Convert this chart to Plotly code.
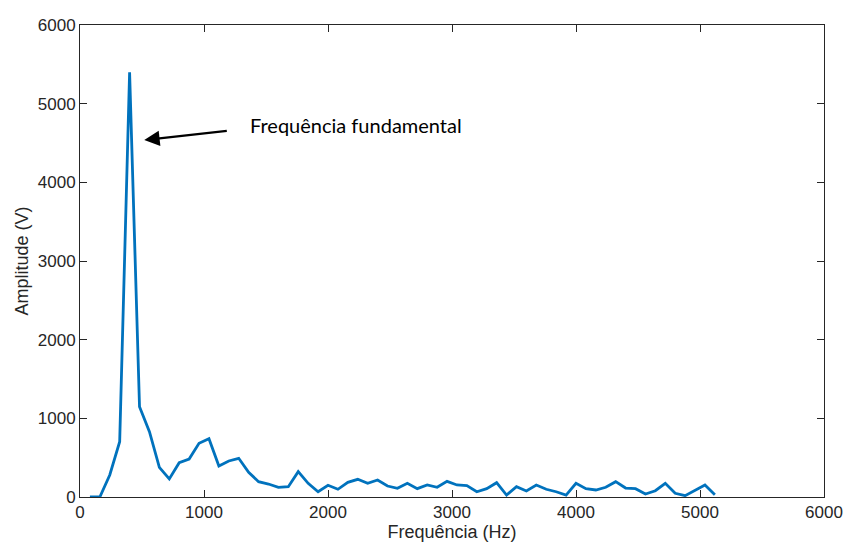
import plotly.graph_objects as go

freq_hz = [80, 160, 240, 320, 400, 480, 560, 640, 720, 800,
           880, 960, 1040, 1120, 1200, 1280, 1360, 1440, 1520, 1600,
           1680, 1760, 1840, 1920, 2000, 2080, 2160, 2240, 2320, 2400,
           2480, 2560, 2640, 2720, 2800, 2880, 2960, 3040, 3120, 3200,
           3280, 3360, 3440, 3520, 3600, 3680, 3760, 3840, 3920, 4000,
           4080, 4160, 4240, 4320, 4400, 4480, 4560, 4640, 4720, 4800,
           4880, 4960, 5040, 5120]
amplitude_v = [0, 0, 280, 703, 5400, 1148, 830, 377, 229, 436,
               483, 682, 741, 394, 458, 492, 314, 195, 165, 123,
               131, 322, 174, 67, 149, 98, 187, 225, 174, 216,
               140, 110, 174, 106, 153, 123, 199, 153, 144, 67,
               106, 182, 25, 131, 76, 153, 98, 67, 25, 174,
               106, 89, 123, 195, 114, 106, 38, 80, 174, 47,
               17, 89, 153, 30]

x_ticks = [0, 1000, 2000, 3000, 4000, 5000, 6000]
y_ticks = [0, 1000, 2000, 3000, 4000, 5000, 6000]

annot_text = "Frequência fundamental"

fig = go.Figure()
fig.add_trace(go.Scatter(x=freq_hz, y=amplitude_v, mode="lines",
                         line=dict(color="#0072BD", width=2.8),
                         showlegend=False, hoverinfo="skip"))

axis_common = dict(showgrid=False, zeroline=False, showline=True, mirror="ticks",
                   linecolor="#262626", linewidth=1, ticks="inside", ticklen=7,
                   tickcolor="#262626", automargin=False,
                   tickfont=dict(family="Liberation Sans, Arial", size=17, color="#262626"))

fig.update_xaxes(range=[0, 6000], tickvals=x_ticks, ticktext=[str(t) for t in x_ticks],
                 title=dict(text="Frequência (Hz)", font=dict(family="Liberation Sans, Arial", size=18, color="#262626"), standoff=2),
                 **axis_common)
fig.update_yaxes(range=[0, 6000], tickvals=y_ticks, ticktext=[str(t) for t in y_ticks],
                 title=dict(text="Amplitude (V)", font=dict(family="Liberation Sans, Arial", size=18, color="#262626"), standoff=4),
                 **axis_common)

fig.add_annotation(x=518, y=4538, ax=1196, ay=4656, xref="x", yref="y", axref="x", ayref="y",
                   text="", showarrow=True, arrowhead=2, arrowsize=1.4, arrowwidth=2.2, arrowcolor="#000000")
fig.add_annotation(x=1355, y=4729, xref="x", yref="y", text=annot_text, showarrow=False,
                   xanchor="left", yanchor="middle",
                   font=dict(family="Lato, Noto Sans", size=20, color="#000000"))

fig.update_layout(width=843, height=549, margin=dict(l=80, r=19, t=25, b=52),
                  plot_bgcolor="white", paper_bgcolor="white", hovermode=False)

fig.write_html("out.html", config={"displayModeBar": False, "staticPlot": True},
               post_script="document.body.style.margin='0px';document.body.style.overflow='hidden';")
